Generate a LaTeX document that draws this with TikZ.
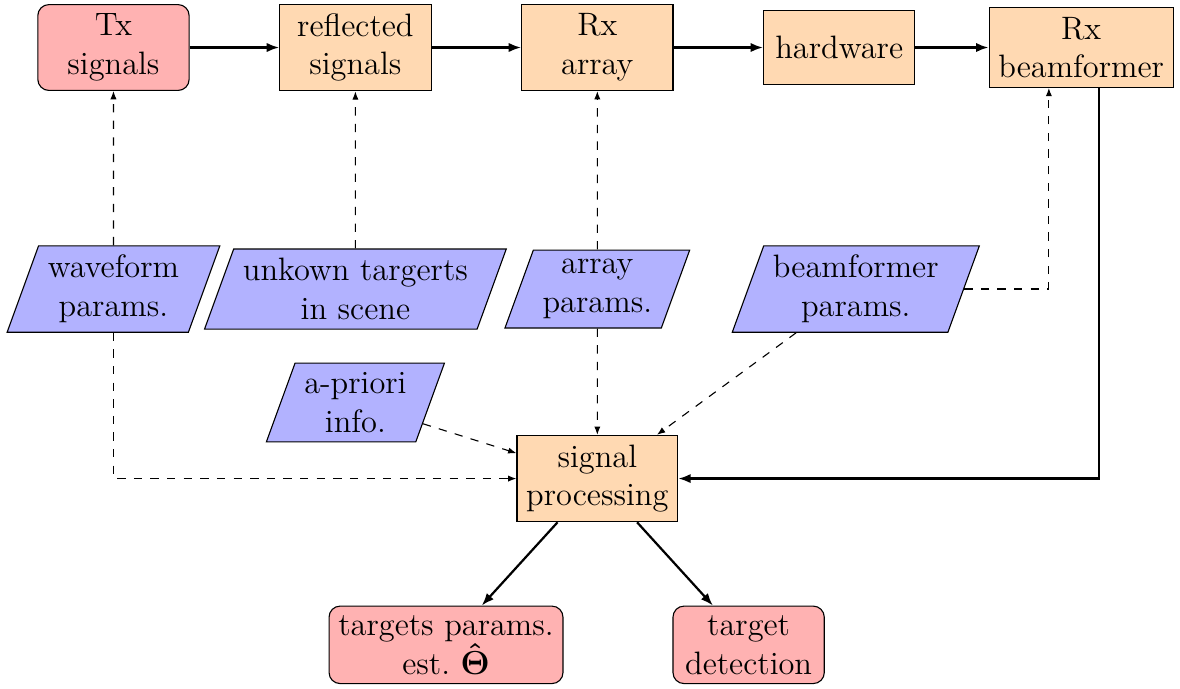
\documentclass[tikz,border=0pt]{standalone}
\usepackage{amsmath,bm}
\usetikzlibrary{arrows.meta,shapes.geometric}

\begin{document}
\begin{tikzpicture}[
  font=\fontsize{11.7}{14}\selectfont,
  block/.style={draw, fill=orange!30, align=center, minimum width=1.92cm, minimum height=0.95cm},
  endbox/.style={block, fill=red!30, rounded corners=4pt},
  param/.style={draw, fill=blue!30, align=center, trapezium, trapezium left angle=70, trapezium right angle=110},
  flow/.style={-{Latex[length=4.5pt]}, thick},
  link/.style={-{Latex[length=3pt]}, dashed}
]
\useasboundingbox (-1.44,0.603) rectangle (13.534,-8.128);

% Main chain
\node[endbox] (tx) at (0,0) {Tx\\signals};
\node[block] (refl) at (3.07,0) {reflected\\signals};
\node[block] (rxa) at (6.14,0) {Rx\\array};
\node[block] (hw) at (9.21,0) {hardware};
\node[block] (bf) at (12.28,0) {Rx\\beamformer};

% Parameters
\node[param] (wf) at (0,-3.065) {waveform\\params.};
\node[param] (unk) at (3.07,-3.065) {unkown targerts\\in scene};
\node[param] (arp) at (6.14,-3.065) {array\\params.};
\node[param] (bfp) at (9.42,-3.065) {beamformer\\params.};
\node[param] (apr) at (3.07,-4.505) {a-priori\\info.};

% Processing and outputs
\node[block] (sp) at (6.14,-5.47) {signal\\processing};
\node[endbox] (est) at (4.22,-7.58) {targets params.\\est.\ $\bm{\hat{\Theta}}$};
\node[endbox] (det) at (8.06,-7.58) {target\\detection};

% Main flow
\draw[flow] (tx) -- (refl);
\draw[flow] (refl) -- (rxa);
\draw[flow] (rxa) -- (hw);
\draw[flow] (hw) -- (bf);
\draw[flow] ([xshift=0.23cm]bf.south) |- (sp.east);
\draw[flow] (sp) -- (est);
\draw[flow] (sp) -- (det);

% Parameter links
\draw[link] (wf) -- (tx);
\draw[link] (unk) -- (refl);
\draw[link] (arp) -- (rxa);
\draw[link] (bfp.east) -| ([xshift=-0.41cm]bf.south);
\draw[link] (wf) |- (sp.west);
\draw[link] (apr) -- (sp);
\draw[link] (arp) -- (sp);
\draw[link] (bfp) -- (sp);

\end{tikzpicture}
\end{document}
